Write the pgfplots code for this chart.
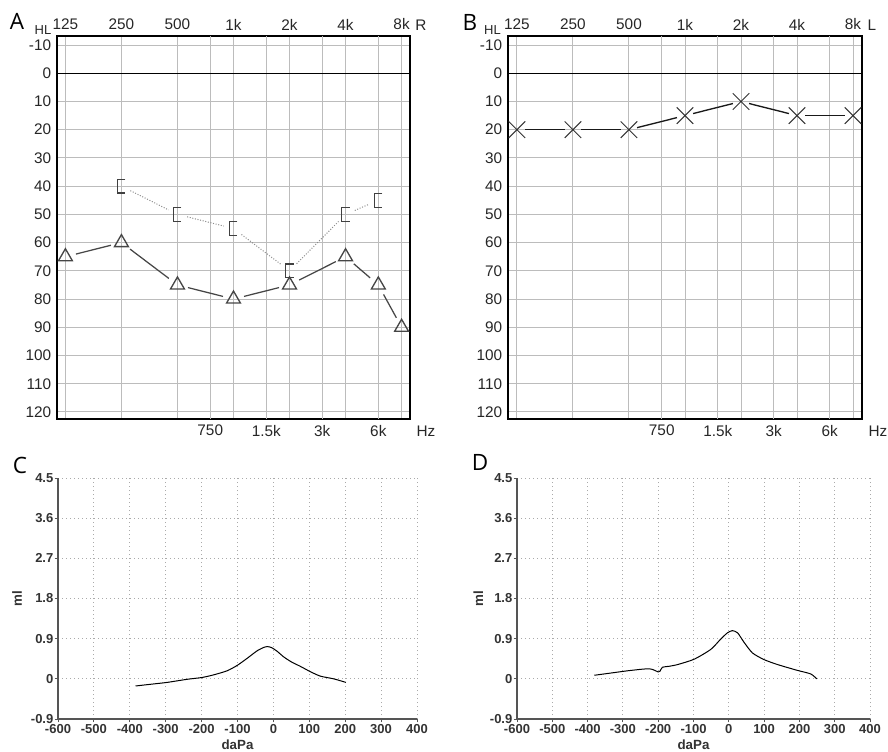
\documentclass[border=0pt]{standalone}
\usepackage{pgfplots}
\pgfplotsset{compat=1.18}
\usepackage{fontspec}
\setmainfont{Liberation Sans}
\newfontfamily\letterfont{Open Sans}
\definecolor{gridg}{RGB}{188,188,188}
\definecolor{tricol}{RGB}{70,70,70}
\definecolor{brkline}{RGB}{140,140,140}
\definecolor{tymgrid}{RGB}{170,170,170}
\definecolor{tymaxis}{RGB}{85,85,85}
\pgfdeclareplotmark{lbrk}{%
  \pgfpathmoveto{\pgfqpoint{2.4pt}{4.1pt}}%
  \pgfpathlineto{\pgfqpoint{-2.4pt}{4.1pt}}%
  \pgfpathlineto{\pgfqpoint{-2.4pt}{-4.1pt}}%
  \pgfpathlineto{\pgfqpoint{2.4pt}{-4.1pt}}%
  \pgfusepathqstroke}
\pgfplotsset{
  audio/.style={
    scale only axis, clip=false,
    height=229.8pt,
    y dir=reverse, ymin=-13.2, ymax=122.5,
    xmin=-0.15, xmax=6.15,
    xtick={0,1,2,3,4,5,6},
    xticklabels={125,250,500,1k,2k,4k,8k},
    xticklabel pos=upper,
    ytick={-10,0,10,20,30,40,50,60,70,80,90,100,110,120},
    yticklabels={-10,0,10,20,30,40,50,60,70,80,90,100,110,120},
    extra x ticks={2.585,3.585,4.585,5.585},
    extra x tick labels={750,1.5k,3k,6k},
    extra x tick style={xticklabel pos=lower},
    extra y ticks={0},
    extra y tick labels={},
    extra y tick style={grid style={black, line width=0.7pt}},
    grid=major,
    grid style={gridg, line width=0.6pt},
    major tick length=0pt,
    axis line style={black, line width=0.9pt},
    tick label style={font=\fontsize{9.2}{10}\selectfont, text=black!85},
  },
  tymp/.style={
    scale only axis, clip=false,
    height=144.6pt,
    xmin=-600, xmax=400, ymin=-0.9, ymax=4.5,
    xtick={-600,-500,-400,-300,-200,-100,0,100,200,300,400},
    xticklabels={-600,-500,-400,-300,-200,-100,0,100,200,300,400},
    ytick={-0.9,0,0.9,1.8,2.7,3.6,4.5},
    yticklabels={-0.9,0,0.9,1.8,2.7,3.6,4.5},
    axis lines*=left,
    axis line style={tymaxis, line width=0.8pt},
    grid=major,
    grid style={tymgrid, dotted, line width=0.55pt},
    tick align=outside, major tick length=2pt,
    tick style={tymaxis, line width=0.5pt},
    tick label style={font=\bfseries\fontsize{7.8}{8}\selectfont, text=black!80},
    xticklabel style={inner sep=1pt},
    yticklabel style={inner sep=0.6pt},
    label style={font=\bfseries\fontsize{8}{8.5}\selectfont, text=black!80},
    xlabel={daPa}, ylabel={ml},
  },
  triseg/.style={tricol, line width=0.75pt, shorten <=6.5pt, shorten >=6.5pt},
  brkseg/.style={brkline, line width=0.6pt, densely dotted, shorten <=6pt, shorten >=6pt},
  xseg/.style={black!90, line width=0.8pt, shorten <=5pt, shorten >=5pt},
}
\begin{document}
\begin{tikzpicture}
\path[use as bounding box] (0,0) rectangle (532.8pt,450.6pt);

% ---------- A ----------
\begin{axis}[audio, at={(34.2pt,199.2pt)}, anchor=south west, width=211.8pt]
\addplot[triseg] coordinates {(0,65)(1,60)};
\addplot[triseg] coordinates {(1,60)(2,75)};
\addplot[triseg] coordinates {(2,75)(3,80)};
\addplot[triseg] coordinates {(3,80)(4,75)};
\addplot[triseg] coordinates {(4,75)(5,65)};
\addplot[triseg] coordinates {(5,65)(5.585,75)};
\addplot[triseg] coordinates {(5.585,75)(6,90)};
\addplot[only marks, mark=triangle, mark size=4.8pt, mark options={draw=tricol, line width=0.8pt}]
  coordinates {(0,65)(1,60)(2,75)(3,80)(4,75)(5,65)(5.585,75)(6,90)};
\addplot[brkseg] coordinates {(1,40)(2,50)};
\addplot[brkseg] coordinates {(2,50)(3,55)};
\addplot[brkseg] coordinates {(3,55)(4,70)};
\addplot[brkseg] coordinates {(4,70)(5,50)};
\addplot[brkseg] coordinates {(5,50)(5.585,45)};
\addplot[only marks, mark=lbrk, mark options={draw=black!75, line width=0.7pt}]
  coordinates {(1,40)(2,50)(3,55)(4,70)(5,50)(5.585,45)};
\end{axis}

% ---------- B ----------
\begin{axis}[audio, at={(304.8pt,199.2pt)}, anchor=south west, width=212.4pt,
  xmin=-0.16, xmax=6.16]
\addplot[xseg] coordinates {(0,20)(1,20)};
\addplot[xseg] coordinates {(1,20)(2,20)};
\addplot[xseg] coordinates {(2,20)(3,15)};
\addplot[xseg] coordinates {(3,15)(4,10)};
\addplot[xseg] coordinates {(4,10)(5,15)};
\addplot[xseg] coordinates {(5,15)(6,15)};
\addplot[only marks, mark=x, mark size=7pt, mark options={draw=black!80, line width=0.6pt}]
  coordinates {(0,20)(1,20)(2,20)(3,15)(4,10)(5,15)(6,15)};
\end{axis}

% ---------- C ----------
\begin{axis}[tymp, at={(34.8pt,19.2pt)}, anchor=south west, width=215.4pt,
  xlabel style={at={(axis description cs:0.5,-0.108)}, anchor=center},
  ylabel style={at={(axis description cs:-0.114,0.5)}, anchor=center}]
\addplot[black, line width=0.6pt, smooth, tension=0.4] coordinates {
(-384,-0.16)(-340,-0.12)(-296,-0.08)(-240,-0.01)(-199,0.03)(-166,0.09)
(-129,0.18)(-101,0.30)(-73,0.46)(-45,0.63)(-25,0.71)(-15,0.72)(-5,0.70)
(10,0.62)(29,0.49)(50,0.38)(75,0.28)(103,0.16)(131,0.06)(168,0.0)(202,-0.08)};
\end{axis}

% ---------- D ----------
\begin{axis}[tymp, at={(310.2pt,19.2pt)}, anchor=south west, width=211.8pt,
  xlabel style={at={(axis description cs:0.5,-0.108)}, anchor=center},
  ylabel style={at={(axis description cs:-0.11,0.5)}, anchor=center}]
\addplot[black, line width=0.6pt, smooth, tension=0.4] coordinates {
(-381,0.08)(-334,0.13)(-287,0.18)(-240,0.22)(-221,0.22)(-210,0.19)(-200,0.155)
(-195,0.17)(-188,0.26)(-170,0.28)(-145,0.32)(-98,0.44)(-51,0.66)(-23,0.89)
(-4,1.03)(10,1.08)(25,1.03)(43,0.82)(67,0.58)(100,0.43)(138,0.32)(194,0.19)
(232,0.11)(249,0.0)};
\end{axis}

% ---------- annotations ----------
\node[font=\letterfont\fontsize{13.5}{14}\selectfont] at (10.2pt,438pt) {A};
\node[font=\letterfont\fontsize{13.5}{14}\selectfont] at (282pt,437.4pt) {B};
\node[font=\letterfont\fontsize{13.5}{14}\selectfont] at (12pt,171.6pt) {C};
\node[font=\letterfont\fontsize{13.5}{14}\selectfont] at (288pt,173.4pt) {D};
\node[font=\fontsize{7.8}{8}\selectfont, text=black!85] at (25.8pt,432.6pt) {HL};
\node[font=\fontsize{7.8}{8}\selectfont, text=black!85] at (295.5pt,432.6pt) {HL};
\node[font=\fontsize{9.2}{10}\selectfont, text=black!85] at (252.6pt,435.6pt) {R};
\node[font=\fontsize{9.2}{10}\selectfont, text=black!85] at (523.2pt,435.6pt) {L};
\node[font=\fontsize{9.2}{10}\selectfont, text=black!85] at (255.6pt,192pt) {Hz};
\node[font=\fontsize{9.2}{10}\selectfont, text=black!85] at (526.8pt,192pt) {Hz};
\end{tikzpicture}
\end{document}
